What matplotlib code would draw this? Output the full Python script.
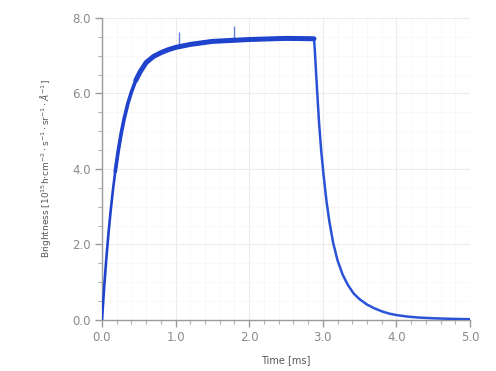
import matplotlib
matplotlib.use("Agg")
import matplotlib.pyplot as plt
from matplotlib.ticker import MultipleLocator, FormatStrFormatter

# Rising edge and plateau of the pulse (time in ms, brightness in 1e15 units)
rise_t = [0.00, 0.03, 0.06, 0.09, 0.12, 0.15, 0.18, 0.22, 0.26, 0.30, 0.35,
          0.40, 0.46, 0.52, 0.60, 0.70, 0.80, 0.90, 1.00, 1.20, 1.50, 2.00,
          2.50, 2.88]
rise_v = [0.00, 0.88, 1.65, 2.33, 2.93, 3.46, 3.93, 4.47, 4.93, 5.32, 5.72,
          6.04, 6.35, 6.58, 6.82, 6.98, 7.08, 7.16, 7.22, 7.30, 7.38, 7.43,
          7.46, 7.45]

# Isolated spikes on the plateau
spike_t = [1.05, 1.79]
spike_v = [7.62, 7.80]
spike_base = [7.26, 7.42]

# Falling edge after the pulse is switched off
decay_t = [2.88, 2.89, 2.91, 2.93, 2.95, 2.98, 3.01, 3.05, 3.09, 3.14, 3.20,
           3.27, 3.34, 3.42, 3.50, 3.60, 3.70, 3.80, 3.90, 4.00, 4.15, 4.30,
           4.50, 4.75, 5.00]
decay_v = [7.45, 7.20, 6.50, 5.85, 5.20, 4.45, 3.85, 3.15, 2.60, 2.05, 1.58,
           1.20, 0.93, 0.70, 0.55, 0.41, 0.31, 0.23, 0.17, 0.13, 0.09, 0.065,
           0.045, 0.03, 0.02]

blue = "#1f43cc"

fig = plt.figure(figsize=(4.96, 3.71), dpi=100)
ax = fig.add_axes([0.2056, 0.1375, 0.742, 0.814])

# wider noisy band along the bright part of the signal, tapering in at the start
ax.plot(rise_t[6:], rise_v[6:], color=blue, lw=2.6, solid_capstyle="round",
        solid_joinstyle="round", zorder=3)
ax.plot(rise_t[12:], rise_v[12:], color=blue, lw=3.6, solid_capstyle="round",
        solid_joinstyle="round", zorder=3)
ax.plot(rise_t, rise_v, color=blue, lw=1.9, solid_capstyle="round",
        solid_joinstyle="round", zorder=4)
ax.vlines(spike_t, spike_base, spike_v, color=blue, lw=1.0, alpha=0.7, zorder=4)
ax.plot(decay_t, decay_v, color="#2a52d6", lw=1.8, solid_capstyle="round",
        solid_joinstyle="round", zorder=3)

ax.set_xlim(0, 5.0)
ax.set_ylim(0, 8.0)
ax.xaxis.set_major_locator(MultipleLocator(1.0))
ax.xaxis.set_minor_locator(MultipleLocator(0.2))
ax.yaxis.set_major_locator(MultipleLocator(2.0))
ax.yaxis.set_minor_locator(MultipleLocator(0.5))
ax.xaxis.set_major_formatter(FormatStrFormatter("%.1f"))
ax.yaxis.set_major_formatter(FormatStrFormatter("%.1f"))

ax.grid(which="major", color="#ebebeb", lw=0.8)
ax.grid(which="minor", color="#f7f7f7", lw=0.6)
ax.set_axisbelow(True)

for side in ("top", "right"):
    ax.spines[side].set_visible(False)
for side in ("left", "bottom"):
    ax.spines[side].set_color("#9a9a9a")
    ax.spines[side].set_linewidth(1.0)

ax.tick_params(which="major", length=5, width=1.0, color="#9a9a9a",
               labelcolor="#8a8a8a", labelsize=8.5, pad=3)
ax.tick_params(which="minor", length=3, width=0.8, color="#b0b0b0")

ax.set_xlabel("Time [ms]", fontsize=7, color="#555555", labelpad=8)
ax.set_ylabel(r"Brightness [$10^{15}$h$\cdot$cm$^{-2}\cdot$s$^{-1}\cdot$sr$^{-1}\cdot\AA^{-1}$]",
              fontsize=6.5, color="#555555", labelpad=14)

fig.savefig("out.png", dpi=100)
